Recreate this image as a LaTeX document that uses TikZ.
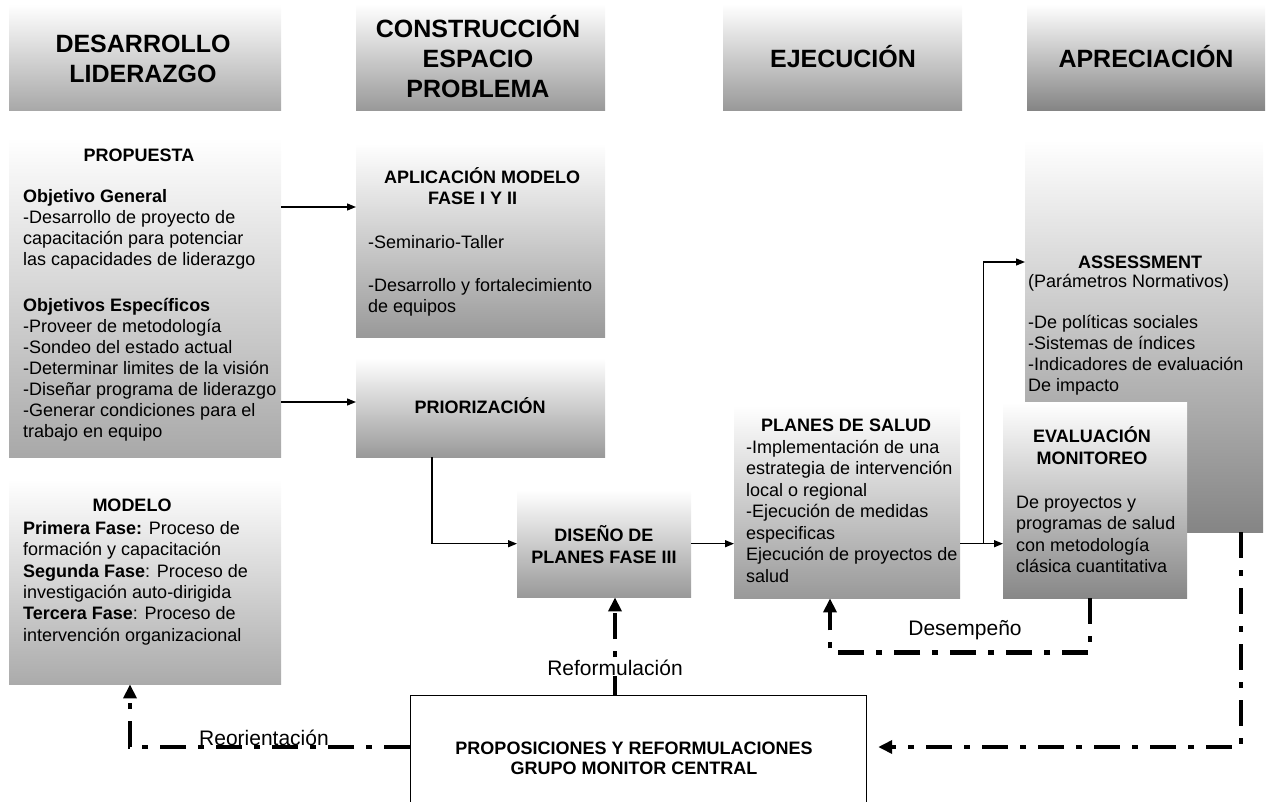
\documentclass[tikz,border=0pt]{standalone}
\usepackage{fontspec}
\setmainfont{Liberation Sans}
\usetikzlibrary{arrows.meta,calc}
% leading struts so that a text block's top sits a fixed distance above its first baseline
\newcommand\hstrut{\rule{0pt}{17pt}}
\newcommand\Hstrut{\rule{0pt}{24pt}}
\begin{document}
\begin{tikzpicture}[x=1pt,y=-1pt,
  gbox/.style={rectangle, draw=none, inner sep=0pt, anchor=north west, top color=white},
  head/.style={anchor=north, align=center, inner sep=0pt, font=\fontsize{25pt}{30pt}\selectfont\bfseries},
  body/.style={anchor=north west, align=left, inner sep=0pt, font=\fontsize{18pt}{21pt}\selectfont},
  ttl/.style={anchor=north, align=center, inner sep=0pt, font=\fontsize{18pt}{22pt}\selectfont\bfseries},
  lbl/.style={anchor=base, inner sep=1pt, font=\fontsize{21pt}{24pt}\selectfont},
  conn/.style={line width=1.3pt, -{Triangle[length=9pt,width=7pt]}},
  fback/.style={line width=4.8pt, dash pattern=on 26pt off 12pt on 6pt off 12pt,
                -{Triangle[length=14pt,width=13pt]}},
]
\useasboundingbox (0,0) rectangle (1284,802);
\clip (0,0) rectangle (1284,802);

% ---------- column headings ----------
\node[gbox, bottom color=black!34, minimum width=272pt, minimum height=106pt] (hA) at (9,4) {};
\node[gbox, bottom color=black!40, minimum width=249pt, minimum height=106pt] (hB) at (356,4) {};
\node[gbox, bottom color=black!40, minimum width=239pt, minimum height=106pt] (hC) at (723,4) {};
\node[gbox, bottom color=black!48, minimum width=238pt, minimum height=106pt] (hD) at (1027,4) {};
\node[head] (hAt) at (143,28) {\Hstrut DESARROLLO\\LIDERAZGO};
\node[head] (hBt) at (478,13) {\Hstrut CONSTRUCCIÓN\\ESPACIO\\PROBLEMA};
\node[head] (hCt) at (843,43) {\Hstrut EJECUCIÓN};
\node[head] (hDt) at (1146,43) {\Hstrut APRECIACIÓN};

% ---------- boxes ----------
\node[gbox, bottom color=black!34, minimum width=272pt, minimum height=320pt] (prop) at (9,137) {};
\node[ttl] (propH) at (139,144) {\hstrut PROPUESTA};
\node[body] (propT) at (23,185) {\hstrut\textbf{Objetivo General}\\-Desarrollo de proyecto de\\capacitación para potenciar\\las capacidades de liderazgo\\[25pt]\textbf{Objetivos Específicos}\\-Proveer de metodología\\-Sondeo del estado actual\\-Determinar limites de la visión\\-Diseñar programa de liderazgo\\-Generar condiciones para el\\trabajo en equipo};

\node[gbox, bottom color=black!33, minimum width=272pt, minimum height=205pt] (mod) at (9,479) {};
\node[ttl] (modH) at (132,494) {\hstrut MODELO};
\node[body, font=\fontsize{18pt}{21.4pt}\selectfont] (modT) at (23,517) {\hstrut\textbf{Primera Fase:} Proceso de\\formación y capacitación\\\textbf{Segunda Fase}: Proceso de\\investigación auto-dirigida\\\textbf{Tercera Fase}: Proceso de\\intervención organizacional};

\node[gbox, bottom color=black!40, minimum width=249pt, minimum height=194pt] (apl) at (356,143) {};
\node[body, font=\fontsize{18pt}{21pt}\selectfont\bfseries] (aplH) at (384,166) {\hstrut APLICACIÓN MODELO\\\hspace*{44pt}FASE I Y II};
\node[body] (aplT) at (368,231) {\hstrut -Seminario-Taller\\[22pt]-Desarrollo y fortalecimiento\\de equipos};

\node[gbox, bottom color=black!40, minimum width=249pt, minimum height=99pt] (pri) at (356,358) {};
\node[ttl] (priH) at (480,396) {\hstrut PRIORIZACIÓN};

\node[gbox, bottom color=black!40, minimum width=174pt, minimum height=107pt] (dis) at (517,490) {};
\node[ttl] (disH) at (604,524) {\hstrut DISEÑO DE\\PLANES FASE III};

\node[gbox, bottom color=black!40, minimum width=226pt, minimum height=193pt] (pla) at (734,405) {};
\node[ttl] (plaH) at (846,414) {\hstrut PLANES DE SALUD};
\node[body, font=\fontsize{18pt}{21.5pt}\selectfont] (plaT) at (746,436) {\hstrut -Implementación de una\\estrategia de intervención\\local o regional\\-Ejecución de medidas\\especificas\\Ejecución de proyectos de\\salud};

\node[gbox, bottom color=black!48, minimum width=238pt, minimum height=392pt] (ass) at (1025,140) {};
\node[ttl] (assH) at (1140,251) {\hstrut ASSESSMENT};
\node[body] (assT) at (1028,270) {\hstrut (Parámetros Normativos)\\[20pt]-De políticas sociales\\-Sistemas de índices\\-Indicadores de evaluación\\De impacto};

\node[gbox, bottom color=black!47, minimum width=184pt, minimum height=196pt] (eva) at (1003,402) {};
\node[ttl] (evaH) at (1092,425) {\hstrut EVALUACIÓN\\MONITOREO};
\node[body, font=\fontsize{18pt}{21.4pt}\selectfont] (evaT) at (1016,491) {\hstrut De proyectos y\\programas de salud\\con metodología\\clásica cuantitativa};

\node[rectangle, draw=black, line width=1.2pt, fill=white, inner sep=0pt, anchor=north west,
      minimum width=456pt, minimum height=130pt] (grp) at (410,695) {};
\node[ttl, font=\fontsize{18pt}{20pt}\selectfont\bfseries] (grpH) at (634,737) {\hstrut PROPOSICIONES Y REFORMULACIONES\\GRUPO MONITOR CENTRAL};

% ---------- forward connectors ----------
\draw[conn] ($(prop.north east)+(0,70)$) -- ($(apl.north west)+(0,64)$);
\draw[conn] ($(prop.north east)+(0,265)$) -- ($(pri.north west)+(0,44)$);
\draw[conn] ($(pri.south west)+(76,0)$) |- (dis.west);
\draw[conn] (dis.east) -- (dis.east -| pla.west);
\draw[conn] (dis.east -| pla.east) -- (dis.east -| eva.west);
\coordinate (jn) at ($(dis.east -| pla.east)+(23,0)$);
\draw[conn] (jn) |- ($(ass.north west)+(0,122)$);

% ---------- feedback connectors ----------
\draw[fback] ($(eva.south west)+(87,0)$) -- ++(0,54) -| ($(pla.south west)+(96,0)$);
\draw[fback] ($(ass.south west)+(216,0)$) |- ($(grp.north east)+(11,52)$);
\draw[fback] ($(grp.north west)+(0,52)$) -| ($(mod.south west)+(121,0)$);
\draw[fback] ($(grp.north west)+(205,0)$) -- ($(dis.south west)+(98,0)$);

\node[lbl] (lDes) at (965,635) {Desempeño};
\node[lbl, fill=white] (lRef) at (615,675) {Reformulación};
\node[lbl] (lReo) at (264,745) {Reorientación};
\end{tikzpicture}
\end{document}
